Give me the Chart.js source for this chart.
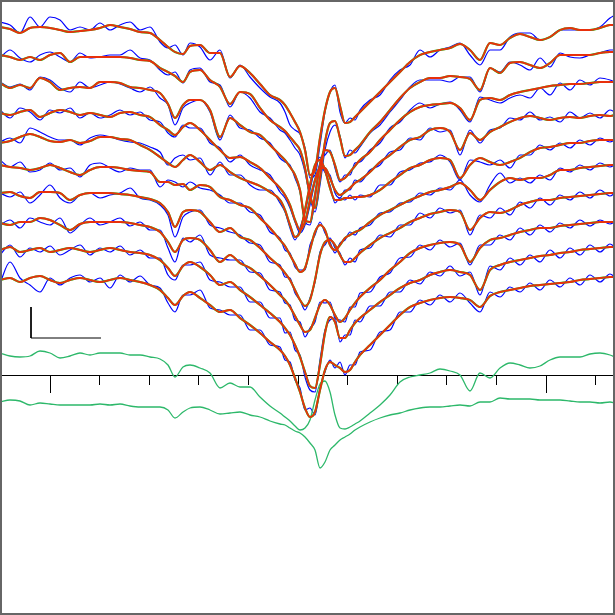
<!DOCTYPE html>
<html>
<head>
<meta charset="utf-8">
<script src="https://cdn.jsdelivr.net/npm/chart.js@4.4.0/dist/chart.umd.min.js"></script>
<style>
  body { margin: 0; background: #fff; }
  canvas { display: block; }
</style>
</head>
<body>
<canvas id="chart" width="615" height="615"></canvas>
<script>
// sample positions along the spectrum (plot units)
const xVals = [0,10,20,30,40,50,60,70,80,90,100,110,120,130,140,150,
  160,168,175,183,190,200,210,220,230,240,250,260,270,280,
  285,290,295,300,305,310,315,320,325,330,335,340,345,350,355,360,
  370,380,390,400,410,420,430,440,450,460,470,480,490,500,510,520,530,540,550,560,570,580,590,600,610,615]

// fitted profiles (red), one per phase, offset downwards
const fit1 = [27,29,33,28,27,28,30,32,31,30,28,25,27,29,32,33,
  40,47,52,54,46,45,53,53,77,66,73,84,95,100,
  105,113,122,132,150,175,170,138,110,92,88,106,123,122,117,112,
  102,92,82,72,62,55,52,50,48,44,50,60,43,45,38,34,37,40,37,30,28,30,30,28,25,25]
const fit2 = [55,57,60,57,60,55,53,62,57,57,57,57,57,58,60,61,
  68,72,76,82,72,70,80,87,104,92,94,108,120,127,
  131,137,143,150,168,195,208,178,142,123,121,138,156,155,150,145,
  132,122,110,98,88,82,78,78,76,77,79,90,68,73,63,62,65,68,63,55,55,55,55,53,52,52]
const fit3 = [83,88,85,88,78,82,90,88,87,88,82,82,83,87,88,90,
  93,104,118,105,100,100,110,137,118,125,132,135,145,155,
  160,167,175,190,220,222,195,165,150,152,165,180,178,172,166,160,
  152,140,130,120,112,107,105,104,103,108,120,100,98,100,95,92,90,88,86,85,84,84,83,82,82,82]
const fit4 = [113,115,112,110,117,113,110,112,115,113,115,117,113,112,115,117,
  125,130,135,127,123,130,140,150,158,157,162,168,178,188,
  195,205,220,230,222,200,180,168,168,178,190,195,192,188,183,180,
  172,162,155,147,140,137,130,128,132,150,133,140,132,127,122,118,116,118,120,118,117,118,116,115,116,115]
const fit5 = [143,141,137,134,137,141,142,140,143,141,137,137,139,140,145,150,
  157,163,167,160,155,162,170,165,172,178,182,186,192,200,
  210,225,237,232,210,185,165,160,170,188,200,200,198,198,197,197,
  195,190,182,175,168,165,160,158,160,178,165,158,162,165,162,158,152,148,147,145,143,143,141,140,140,140]
const fit6 = [165,167,168,170,168,165,168,172,175,170,167,167,168,170,171,172,
  182,182,185,184,190,185,187,197,200,205,208,218,228,240,
  246,255,264,272,268,250,232,225,230,245,250,245,238,235,232,230,
  222,215,210,205,200,196,192,190,187,183,190,200,190,182,178,180,178,178,175,170,170,168,167,166,165,165]
const fit7 = [193,192,196,198,192,192,193,200,195,193,193,193,194,195,197,199,
  203,212,227,212,210,212,222,232,228,237,240,248,258,267,
  273,280,290,300,306,300,280,255,242,240,245,255,262,262,258,253,
  245,238,233,228,222,218,214,212,210,212,230,218,212,213,210,205,202,200,200,198,197,196,195,194,193,193]
const fit8 = [223,225,222,222,218,220,225,230,224,222,222,222,222,223,225,227,
  232,242,252,240,238,240,250,262,255,263,268,276,285,295,
  300,307,316,325,332,330,318,305,300,305,315,322,318,310,303,297,
  288,280,270,262,253,248,245,243,242,245,262,248,240,238,235,232,230,228,228,226,225,224,223,222,222,222]
const fit9 = [250,247,252,250,248,252,250,248,250,252,250,248,250,252,253,255,
  260,268,276,266,262,267,275,285,282,290,297,305,313,322,
  328,335,345,357,372,386,388,365,333,317,322,338,338,330,323,318,
  310,302,295,288,283,280,275,272,270,272,275,290,270,265,262,260,258,256,255,253,252,250,249,248,247,247]
const fit10 = [280,278,282,278,276,280,283,280,278,280,282,280,278,280,282,285,
  290,298,305,296,292,298,305,312,310,318,325,333,342,350,
  356,365,378,392,408,417,412,390,370,362,365,368,372,370,362,355,
  345,335,325,315,307,303,300,298,297,298,300,307,296,292,290,288,286,285,284,283,282,280,279,278,277,277]

// observed profiles (blue)
const obs1 = [22,25,33,17,27,17,20,30,27,30,23,30,25,22,30,27,
  42,48,45,55,43,47,60,50,78,65,77,88,97,103,
  112,125,130,134,148,178,175,145,112,92,85,112,123,118,120,110,
  100,95,80,70,65,50,57,50,47,43,55,65,50,50,37,33,33,40,37,30,30,30,30,27,18,15]
const obs2 = [58,50,58,62,55,52,57,62,53,58,57,55,55,50,58,60,
  70,75,72,83,70,68,82,85,107,92,98,112,118,130,
  133,140,148,155,172,198,212,185,150,132,125,136,158,150,153,147,
  133,125,112,100,87,80,80,80,82,77,77,92,68,72,62,65,70,58,67,53,57,58,55,53,50,50]
const obs3 = [82,87,84,90,77,80,88,92,82,88,85,82,84,88,92,87,
  98,105,125,108,103,100,112,140,115,128,130,138,143,158,
  162,165,178,192,222,225,200,162,155,150,168,182,175,175,163,162,
  150,143,128,122,110,103,108,104,102,110,122,97,100,103,98,95,98,88,95,83,90,80,85,78,80,82]
const obs4 = [110,118,108,112,120,110,113,108,118,113,118,115,110,115,112,120,
  122,133,137,125,128,128,143,148,162,155,165,170,175,192,
  198,208,222,233,225,205,182,165,172,175,193,198,190,190,180,182,
  170,165,152,150,138,140,128,132,130,155,130,143,130,128,118,120,112,120,117,122,112,118,113,118,110,112]
const obs5 = [142,138,143,128,132,137,140,140,145,138,135,137,140,142,143,147,
  152,165,158,155,160,158,175,162,175,175,185,190,190,203,
  212,228,240,228,212,190,168,157,172,185,203,198,200,195,200,195,
  197,185,185,172,170,163,162,155,162,180,160,162,165,160,168,155,155,145,150,143,148,140,145,138,142,140]
const obs6 = [160,167,162,172,170,163,170,168,177,165,163,168,172,168,170,170,
  187,180,182,187,182,188,190,195,203,203,212,215,232,238,
  250,253,267,270,270,245,235,222,233,242,253,243,240,232,235,228,
  225,213,212,203,202,193,195,188,190,180,195,202,185,173,183,178,183,175,180,168,172,165,170,163,167,165]
const obs7 = [193,197,192,203,195,185,198,203,195,193,198,195,193,188,198,200,
  205,215,237,217,212,210,225,228,232,235,243,245,262,265,
  277,278,293,300,310,298,282,252,245,238,248,253,265,258,262,250,
  248,235,237,225,225,213,218,208,213,210,235,215,218,208,215,202,208,198,205,195,200,192,198,190,196,193]
const obs8 = [225,220,228,218,222,225,218,233,225,218,225,222,218,226,222,230,
  230,248,262,238,242,235,255,258,260,260,272,273,290,292,
  303,305,320,322,337,328,322,302,303,302,318,320,322,307,307,293,
  292,277,273,258,257,245,250,240,247,243,265,245,245,235,240,228,235,225,232,223,228,220,226,220,224,222]
const obs9 = [255,245,257,248,252,246,255,250,245,255,248,252,246,255,250,258,
  258,275,280,265,265,262,280,282,287,287,302,302,318,318,
  333,332,350,355,377,390,392,360,330,320,318,342,335,335,320,322,
  306,306,292,292,280,284,272,276,266,276,272,295,266,270,258,265,255,262,250,258,248,255,245,252,244,247]
const obs10 = [283,262,278,285,292,278,285,278,275,282,278,288,275,282,276,285,
  288,303,312,295,295,290,308,310,315,315,330,330,345,347,
  360,362,380,388,410,408,415,388,372,360,368,362,375,365,365,352,
  350,332,330,312,312,300,305,295,302,293,303,312,292,297,287,292,283,290,280,287,278,285,275,282,274,277]

// mean profiles below (green)
const mean1 = [353,356,357,356,351,353,358,356,353,355,353,353,353,355,355,357,
  359,365,377,367,365,368,373,388,383,387,387,397,406,413,
  417,421,426,430,428,420,400,384,381,392,415,428,429,427,424,421,
  413,405,395,382,377,375,373,369,371,375,391,373,378,368,363,365,368,366,360,357,357,357,354,353,355,357]
const mean2 = [402,400,401,405,403,404,405,405,405,405,404,405,404,406,407,407,
  407,410,418,412,408,407,410,414,413,412,415,417,421,424,
  425,428,431,433,437,443,450,468,462,450,445,440,437,434,430,427,
  422,418,415,413,410,408,407,407,406,405,406,402,402,398,399,399,399,400,400,400,401,402,402,403,402,403]

// axis ticks and scale bar
const axisY = 375
const tickPos = [50,99.6,149.2,198.8,248.4,298,347.6,397.2,446.8,496.4,546,595.6]
const longTicks = [50,546]
const barX = [31,31,101]
const barY = [307,338,338]

const fits = [fit1,fit2,fit3,fit4,fit5,fit6,fit7,fit8,fit9,fit10]
const obs = [obs1,obs2,obs3,obs4,obs5,obs6,obs7,obs8,obs9,obs10]

function pts(ys) {
  return xVals.map((x, i) => ({x: x, y: ys[i]}))
}

let datasets = []
for (let k = 0; k < fits.length; k++) {
  datasets.push({data: pts(obs[k]), borderColor: '#0000ff', borderWidth: 1.2, order: 3})
  datasets.push({data: pts(fits[k]), borderColor: '#1ed21e', borderWidth: 2.2, order: 2})
  datasets.push({data: pts(fits[k]), borderColor: '#e8300c', borderWidth: 1.9, order: 1})
}
datasets.push({data: pts(mean1), borderColor: '#2db86a', borderWidth: 1.3, order: 2})
datasets.push({data: pts(mean2), borderColor: '#2db86a', borderWidth: 1.3, order: 2})
datasets.push({
  data: barX.map((x, i) => ({x: x, y: barY[i]})),
  borderColor: '#000', borderWidth: 1, tension: 0, cubicInterpolationMode: 'default', order: 0
})

const frame = {
  id: 'frame',
  afterDraw(chart) {
    const c = chart.ctx
    c.save()
    c.strokeStyle = '#666'
    c.lineWidth = 2
    c.strokeRect(1, 1, chart.width - 2, chart.height - 2)
    c.restore()
  }
}

new Chart(document.getElementById('chart'), {
  type: 'line',
  data: {datasets: datasets},
  plugins: [frame],
  options: {
    responsive: false,
    animation: false,
    devicePixelRatio: 1,
    layout: {padding: 0},
    elements: {
      point: {radius: 0},
      line: {cubicInterpolationMode: 'monotone', fill: false}
    },
    plugins: {legend: {display: false}, tooltip: {enabled: false}},
    scales: {
      x: {
        type: 'linear', min: 0, max: 615,
        position: {y: axisY},
        ticks: {display: false},
        grid: {drawOnChartArea: false, tickLength: 9, color: '#000', lineWidth: 1},
        border: {display: true, color: '#000', width: 1},
        afterBuildTicks: s => { s.ticks = tickPos.map(v => ({value: v})) }
      },
      x2: {
        type: 'linear', min: 0, max: 615,
        position: {y: axisY},
        ticks: {display: false},
        grid: {drawOnChartArea: false, tickLength: 18, color: '#000', lineWidth: 1},
        border: {display: false},
        afterBuildTicks: s => { s.ticks = longTicks.map(v => ({value: v})) }
      },
      y: {type: 'linear', min: 0, max: 615, reverse: true, display: false}
    }
  }
})
</script>
</body>
</html>
